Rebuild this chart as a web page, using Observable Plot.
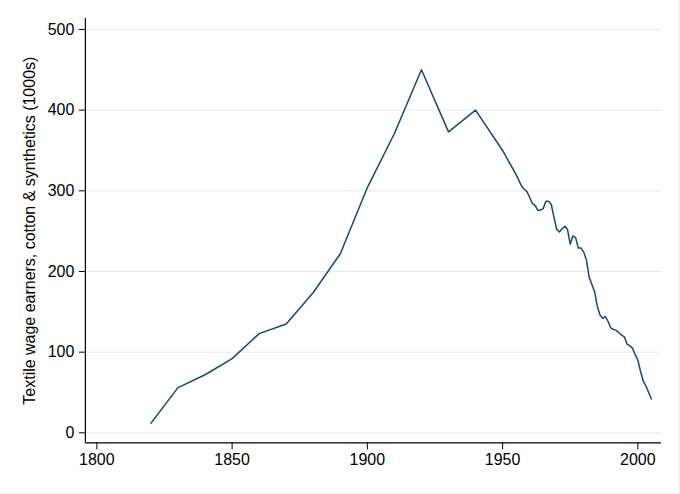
<!DOCTYPE html>
<html>
<head>
<meta charset="utf-8">
<script src="https://cdn.jsdelivr.net/npm/d3@7"></script>
<script src="https://cdn.jsdelivr.net/npm/@observablehq/plot@0.6"></script>
<style>
  body { margin: 0; background: #fff; }
  #chart { width: 680px; height: 494px; box-sizing: border-box; border-right: 1px solid #eeeeee; border-bottom: 1px solid #eeeeee; }
</style>
</head>
<body>
<div id="chart"></div>
<script>
// textile wage earners, cotton & synthetics (thousands)
const years = [
  1820, 1830, 1840, 1850, 1860, 1870, 1880, 1890, 1900, 1910, 1920, 1930, 1940, 1950,
  1955, 1956, 1957, 1958, 1959, 1960, 1961, 1962, 1963, 1964, 1965, 1966, 1967, 1968, 1969,
  1970, 1971, 1972, 1973, 1974, 1975, 1976, 1977, 1978, 1979, 1980, 1981, 1982, 1983, 1984,
  1985, 1986, 1987, 1988, 1989, 1990, 1991, 1992, 1993, 1994, 1995, 1996, 1997, 1998, 1999,
  2000, 2001, 2002, 2003, 2004, 2005
];
const workers = [
  12, 56, 72, 92, 123, 135, 174, 222, 304, 371, 450, 373, 400, 350,
  320, 313, 306, 302, 299, 292, 284, 282, 276, 276, 278, 287, 287, 283, 267,
  252, 249, 253, 256, 252, 234, 244, 242, 229, 229, 224, 214, 193, 184, 175,
  157, 146, 142, 144, 138, 130, 128, 127, 124, 121, 119, 110, 108, 105, 97,
  90, 76, 64, 58, 50, 42
];
const xTicks = [1800, 1850, 1900, 1950, 2000];
const yTicks = [0, 100, 200, 300, 400, 500];
const xDomain = [1795.75, 2008.75];
const yDomain = [-12.4, 513.6];

const data = years.map((y, i) => ({year: y, value: workers[i]}));

const font = "'Liberation Sans', Arial, Helvetica, sans-serif";

document.querySelector("#chart").append(
  Plot.plot({
    width: 680,
    height: 494,
    marginLeft: 85,
    marginRight: 18,
    marginTop: 18,
    marginBottom: 51,
    style: {fontFamily: font, fontSize: "16px", color: "#000", background: "#fff"},
    x: {domain: xDomain, ticks: xTicks, tickFormat: d => String(d), tickSize: 7, tickPadding: 4, label: null},
    y: {domain: yDomain, ticks: yTicks, tickSize: 6, tickPadding: 5,
        label: "Textile wage earners, cotton & synthetics (1000s)",
        labelAnchor: "center", labelArrow: "none", labelOffset: 62},
    marks: [
      Plot.gridY(yTicks, {stroke: "#e6e9ec", strokeOpacity: 1, strokeWidth: 1}),
      Plot.axisY(yTicks, {tickSize: 6, tickPadding: 5, fontSize: 16,
        label: "Textile wage earners, cotton & synthetics (1000s)",
        labelAnchor: "center", labelArrow: "none", labelOffset: 62}),
      Plot.axisX(xTicks, {tickSize: 7, tickPadding: 4, fontSize: 16, tickFormat: d => String(d), label: null}),
      Plot.ruleY([yDomain[0]], {stroke: "#000", strokeWidth: 1.2}),
      Plot.ruleX([xDomain[0]], {stroke: "#000", strokeWidth: 1.2}),
      Plot.line(data, {x: "year", y: "value", stroke: "#1a476f", strokeWidth: 1.5})
    ]
  })
);
</script>
</body>
</html>
